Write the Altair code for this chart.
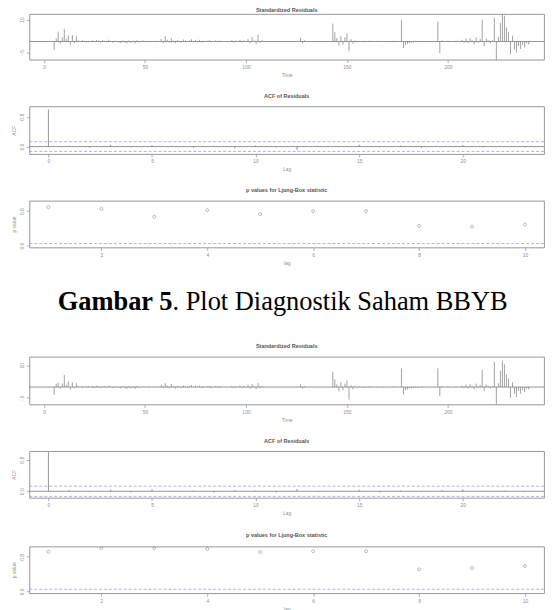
import altair as alt
import pandas as pd

# ---------------- data ----------------
time_idx = list(range(1, 241))

resid_a = [
    0, 0, 0, 0, -3.8, 1.5, 4.5, -1.0, 2.0, 5.7, 1.2, 2.8, -1.5, 3.0, -0.8, 2.5, 0.5, 0, 0.6, 0,
    -0.4, 0.3, 0, 0.5, -0.3, 0.7, 0.4, -0.5, 0.6, 0.3, -0.4, 0.8, 0.2, -0.6, 0.3, 0, -0.5, -0.8, 0.4, -0.6,
    -0.9, 0.5, -0.7, 0.3, -1.0, 0.6, -0.4, 0, 0.4, 0, 0, 0.3, 0, 0, 0.3, 0, 0, 1.2, -0.6, 2.4,
    0.8, -0.5, 1.5, 0.4, -0.8, 0.6, 0.3, -0.5, 0.9, 0.4, -0.3, 0.5, 1.0, -0.4, 0.7, 0.3, 0.8, -0.5, 0.4, 0,
    0.3, 0.6, -0.4, 0, 0.5, -0.3, 0.4, 0, 0, 0, 0, 0, 0.6, -0.5, 0.4, 0, 0.8, -0.4, 0.5, 0,
    1.2, -0.8, 2.0, 0.5, -1.2, 3.0, -0.6, 0.5, 0, 0, 0, 0, 0, 0, 0, 0, 0, 0, 0, 0,
    0, 0, 0, 0, 0, 0, 1.6, -0.8, 0.5, 0, 0, 0, 0, 0, 0, 0, 0, 0, 0, 0,
    0, 0, 8.2, 4.2, 1.5, -2.0, 2.6, -1.5, 1.9, 3.7, -4.5, 1.0, -1.0, 0.5, -0.4, 0.3, 0, 0.3, -0.3, 0,
    0.3, 0.2, 0, 0, 0.3, -0.2, 0, 0.2, 0, 0, 0, 0, 0.3, 0, 0, 0, 9.8, -3.0, -1.6, -1.1,
    -0.8, -0.5, -0.4, 0.3, -0.3, 0, 0.3, 0, 0, 0, 0, 0, 0, 0, 9.1, -5.3, 0.5, 0, 0, 0.3,
    0, 0, 0, 0.3, 0, 0, 0.8, -0.6, 1.3, -0.8, 1.6, 0.5, -1.3, 1.9, -0.5, 1.1, 10.0, -2.1, 1.3, 0.5,
    -0.8, 0.6, 10.9, -9.5, 2.1, 8.5, 13.6, 11.8, 6.4, 4.3, -5.9, 2.7, -3.8, -5.1, -2.1, -3.4, -1.6, -2.7, -0.9, -1.3,
]

resid_b = [
    0, 0, 0, 0, -3.5, 1.5, 2.0, -0.8, 1.6, 5.6, 1.0, 2.6, -1.2, 2.2, -0.6, 1.8, 0.4, 0, 0.5, 0,
    -0.3, 0.4, 0, 0.5, -0.4, 0.6, 0.3, -0.5, 0.5, 0.3, -0.3, 0.7, 0.2, -0.5, 0.4, 0, -0.4, -0.7, 0.4, -0.5,
    -0.8, 0.4, -0.6, 0.3, -0.9, 0.5, -0.3, 0, 0.3, 0, 0, 0.3, 0, 0, 0.3, 0, 0, 1.0, -0.5, 1.8,
    0.7, -0.5, 1.4, 0.4, -0.7, 0.5, 0.3, -0.4, 0.8, 0.3, -0.3, 0.5, 0.9, -0.3, 0.6, 0.3, 0.7, -0.4, 0.4, 0,
    0.3, 0.5, -0.4, 0, 0.4, -0.3, 0.4, 0, 0, 0, 0, 0, 0.5, -0.4, 0.4, 0, 0.7, -0.4, 0.5, 0,
    1.0, -0.7, 1.5, 0.4, -1.0, 1.8, -0.5, 0.4, 0, 0, 0, 0, 0, 0, 0, 0, 0, 0, 0, 0,
    0, 0, 0, 0, 0, 0, 1.3, -0.7, 0.4, 0, 0, 0, 0, 0, 0, 0, 0, 0, 0, 0,
    0, 0, 7.1, 3.5, 1.2, -2.0, 2.2, -1.4, 1.6, 3.0, -5.8, 0.9, -1.0, 0.4, -0.3, 0.3, 0, 0.3, -0.3, 0,
    0.3, 0.2, 0, 0, 0.3, -0.2, 0, 0.2, 0, 0, 0, 0, 0.3, 0, 0, 0, 8.6, -3.5, -1.4, -1.0,
    -0.7, -0.5, -0.4, 0.3, -0.3, 0, 0.3, 0, 0, 0, 0, 0, 0, 0, 8.6, -4.2, 0.5, 0, 0, 0.3,
    0, 0, 0, 0.3, 0, 0, 0.7, -0.5, 1.1, -0.7, 1.4, 0.4, -1.1, 1.6, -0.5, 1.0, 7.9, -1.8, 1.1, 0.4,
    -0.7, 0.5, 11.7, -8.5, 1.8, 7.5, 12.0, 10.5, 5.8, 3.8, -5.0, 2.2, -3.2, -4.6, -1.8, -3.0, -1.4, -2.3, -0.8, -1.1,
]

acf_lag = list(range(0, 24))
acf_a = [1.0, 0.02, -0.03, 0.05, -0.02, 0.04, 0.01, -0.03, 0.02, -0.05, 0.03, -0.02,
         -0.09, 0.02, -0.01, 0.05, -0.02, 0.03, -0.04, 0.01, 0.04, -0.02, 0.01, -0.03]
acf_b = [1.0, 0.03, -0.02, 0.04, -0.03, 0.05, -0.01, 0.02, -0.04, 0.03, 0.02, -0.03,
         0.06, -0.02, 0.01, 0.04, -0.03, 0.02, -0.02, 0.03, 0.05, -0.01, 0.02, -0.02]

lb_lag = list(range(1, 11))
pval_a = [0.89, 0.85, 0.67, 0.82, 0.73, 0.80, 0.80, 0.46, 0.44, 0.49]
pval_b = [0.92, 1.0, 1.0, 0.98, 0.91, 0.93, 0.93, 0.51, 0.54, 0.59]

acf_ci = [0.13, -0.13]
p_sig = [0.05]

time_ticks = [0, 50, 100, 150, 200]
resid_ticks = [-5, 0, 5, 10]
lag_ticks = [0, 5, 10, 15, 20]
lb_ticks = [2, 4, 6, 8, 10]
unit_ticks = [0.0, 0.4, 0.8]

caption_bold = "Gambar 5"
caption_rest = ". Plot Diagnostik Saham BBYB"

# ---------------- style ----------------
W = 518
BOX = "#8c8c8c"
LINE = "#7a7a7a"
BLUE = "#9c9fe4"
TXT = "#8f8f8f"


def resid_panel(vals, h, ydom, toff=7):
    df = pd.DataFrame({"t": time_idx, "r": vals, "z": [0] * len(vals)})
    xs = alt.X("t:Q", scale=alt.Scale(domain=[-7.3, 247.6], nice=False, zero=False),
               axis=alt.Axis(values=time_ticks, title="Time"))
    ys = alt.Y("z:Q", scale=alt.Scale(domain=ydom, nice=False, zero=False),
               axis=alt.Axis(values=resid_ticks, title=""))
    bars = alt.Chart(df).mark_rule(color=LINE, strokeWidth=0.7, clip=True).encode(
        x=xs, y=ys, y2="r:Q")
    zero = alt.Chart(pd.DataFrame({"y": [0]})).mark_rule(color=LINE, strokeWidth=0.8).encode(
        y=alt.Y("y:Q", title=""))
    return alt.layer(bars, zero).properties(
        width=W, height=h, title=alt.TitleParams("Standardized Residuals", offset=toff))


def acf_panel(vals, h, ydom):
    df = pd.DataFrame({"lag": acf_lag, "acf": vals, "z": [0] * len(vals)})
    xs = alt.X("lag:Q", scale=alt.Scale(domain=[-0.92, 23.92], nice=False, zero=False),
               axis=alt.Axis(values=lag_ticks, title="Lag"))
    ys = alt.Y("z:Q", scale=alt.Scale(domain=ydom, nice=False, zero=False),
               axis=alt.Axis(values=unit_ticks, format=".1f", title="ACF"))
    bars = alt.Chart(df).mark_rule(color=LINE, strokeWidth=0.8, clip=True).encode(
        x=xs, y=ys, y2="acf:Q")
    zero = alt.Chart(pd.DataFrame({"y": [0]})).mark_rule(color=LINE, strokeWidth=0.8).encode(
        y=alt.Y("y:Q", title="ACF"))
    ci = alt.Chart(pd.DataFrame({"y": acf_ci})).mark_rule(
        color=BLUE, strokeWidth=0.8, strokeDash=[3, 2]).encode(y=alt.Y("y:Q", title="ACF"))
    return alt.layer(bars, zero, ci).properties(width=W, height=h, title="ACF of Residuals")


def pval_panel(vals, h):
    df = pd.DataFrame({"lag": lb_lag, "p": vals})
    xs = alt.X("lag:Q", scale=alt.Scale(domain=[0.64, 10.36], nice=False, zero=False),
               axis=alt.Axis(values=lb_ticks, title="lag"))
    ys = alt.Y("p:Q", scale=alt.Scale(domain=[-0.04, 1.04], nice=False, zero=False),
               axis=alt.Axis(values=unit_ticks, format=".1f", title="p value"))
    pts = alt.Chart(df).mark_point(shape="circle", filled=False, size=9, color=LINE,
                                   strokeWidth=0.7).encode(x=xs, y=ys)
    sig = alt.Chart(pd.DataFrame({"y": p_sig})).mark_rule(
        color=BLUE, strokeWidth=0.8, strokeDash=[3, 2]).encode(y=alt.Y("y:Q", title="p value"))
    return alt.layer(pts, sig).properties(width=W, height=h,
                                          title="p values for Ljung-Box statistic")


cap_df = pd.DataFrame({"bold": [caption_bold], "rest": [caption_rest]})
cap_b = alt.Chart(cap_df).mark_text(font="Liberation Serif", fontSize=26.6, fontWeight="bold",
                                     align="right", baseline="alphabetic", color="#000000").encode(
    text="bold:N", x=alt.value(144), y=alt.value(27.5))
cap_r = alt.Chart(cap_df).mark_text(font="Liberation Serif", fontSize=26.6, fontWeight="normal",
                                     align="left", baseline="alphabetic", color="#000000").encode(
    text="rest:N", x=alt.value(144), y=alt.value(27.5))
caption = alt.layer(cap_b, cap_r).properties(
    width=W, height=46, view=alt.ViewBackground(stroke="transparent"))

p1 = resid_panel(resid_a, 46, [-8.3, 12.6], toff=0.5)
p2 = acf_panel(acf_a, 48, [-0.2, 1.08])
p3 = pval_panel(pval_a, 47)
p4 = resid_panel(resid_b, 48, [-8.0, 14.0])
p5 = acf_panel(acf_b, 47, [-0.165, 1.02])
p6 = pval_panel(pval_b, 47)

chart = alt.vconcat(p1, p2, p3, caption, p4, p5, p6, spacing=15).properties(
    padding={"left": 2.5, "top": -3, "right": 0, "bottom": 0}
).configure_view(
    stroke=BOX, strokeWidth=0.9
).configure_axis(
    domain=False, grid=False, tickColor=BOX, tickSize=3, tickWidth=0.7,
    labelFont="Liberation Sans", labelFontSize=5, labelColor=TXT, labelPadding=2,
    labelOverlap=False,
    titleFont="Liberation Sans", titleFontSize=5, titleFontWeight="normal", titleColor=TXT,
    titlePadding=3
).configure_axisY(
    labelAngle=270
).configure_title(
    font="Liberation Sans", fontSize=5.5, fontWeight="bold", color="#555555", offset=7
)

chart.save("out.html", embed_options={"renderer": "svg", "actions": False})
